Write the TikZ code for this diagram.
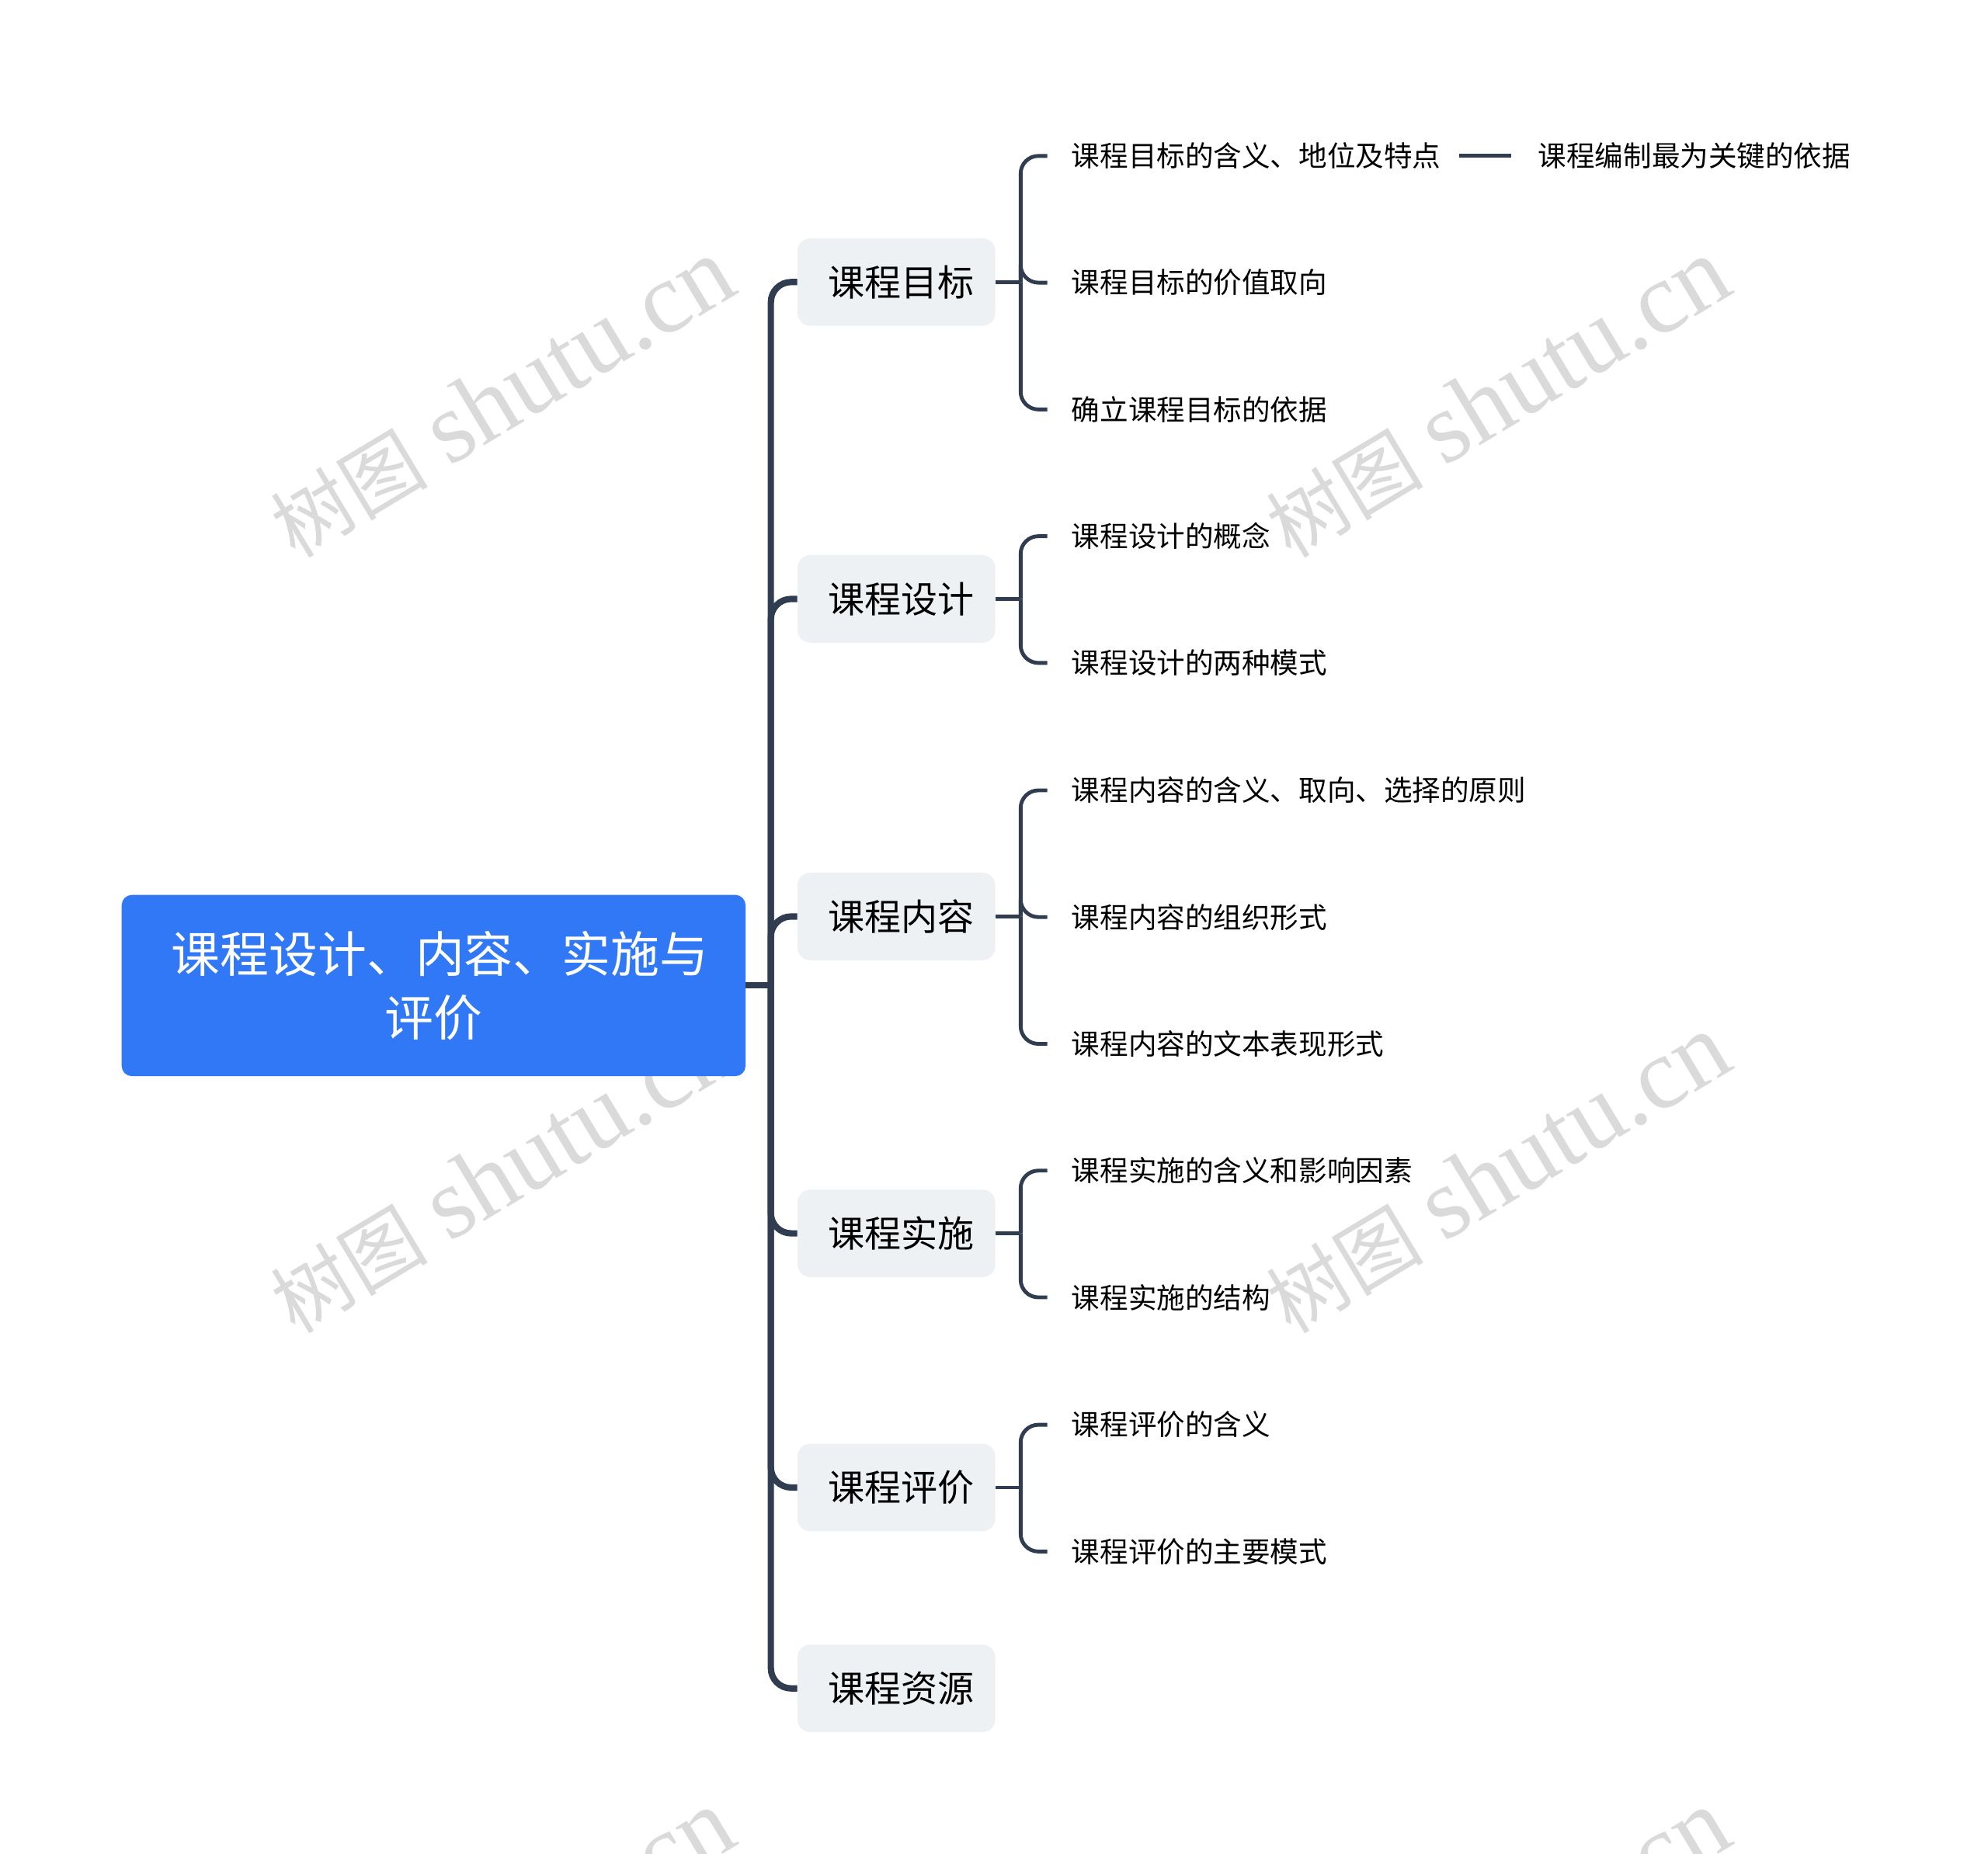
\documentclass[tikz,border=0pt]{standalone}
\usepackage{fontspec}
\setmainfont{Noto Sans CJK SC}
\newfontfamily\wmlatin{Liberation Serif}
\definecolor{linec}{HTML}{303D50}
\definecolor{rootblue}{HTML}{3178F6}
\definecolor{boxgray}{HTML}{EEF1F4}
\definecolor{wmgray}{HTML}{DADADA}
\newcommand{\wmtext}{{\fontsize{62}{70}\selectfont 树图}\hspace*{17pt}{\wmlatin shutu.cn}}
\tikzset{
  rootbox/.style={draw=none, fill=rootblue, rounded corners=8pt, minimum width=492pt, minimum height=143pt, align=center, text=white, font=\fontsize{38.5}{50}\selectfont, inner sep=0pt},
  lonebox/.style={draw=none, fill=boxgray, rounded corners=10pt, minimum width=156pt, minimum height=69pt, inner sep=0pt, text=black, font=\fontsize{28.8}{34}\selectfont},
  leaf/.style={anchor=west, inner xsep=19pt, inner ysep=4pt, text=black, font=\fontsize{22.4}{27}\selectfont},
  trunk/.style={draw=linec, line width=5pt, rounded corners=16pt},
  twig/.style={draw=linec, line width=3pt, rounded corners=14pt},
  wm/.style={text=wmgray, rotate=31, font=\fontsize{80}{88}\selectfont, inner sep=0pt}
}
\begin{document}
\begin{tikzpicture}[x=1pt,y=-1pt]
\useasboundingbox (0,0) rectangle (1568,1462.6);
% watermarks
\begin{scope}
\clip (0,0) rectangle (1568,1462.6);
\node[wm] (wm1) at (396,314) {\wmtext};
\node[wm] (wm2) at (1181,314) {\wmtext};
\node[wm] (wm3) at (396,926) {\wmtext};
\node[wm] (wm4) at (1181,926) {\wmtext};
\node[wm] (wm5) at (396,1538) {\wmtext};
\node[wm] (wm6) at (1181,1538) {\wmtext};
\end{scope}

% root
\node[rootbox] (root) at (342,777.5) {\hspace*{10pt}课程设计、内容、实施与\\评价};
\coordinate (hub) at (608,777.5);

% level 1
\node[lonebox] (a) at (707,222.5) {\hspace*{8pt}课程目标};
\node[lonebox] (b) at (707,472.5) {\hspace*{8pt}课程设计};
\node[lonebox] (c) at (707,723) {\hspace*{8pt}课程内容};
\node[lonebox] (d) at (707,973) {\hspace*{8pt}课程实施};
\node[lonebox] (e) at (707,1173.5) {\hspace*{8pt}课程评价};
\node[lonebox] (f) at (707,1332) {\hspace*{8pt}课程资源};

% leaves
\node[leaf] (a1) at (826,123) {课程目标的含义、地位及特点};
\node[leaf] (a2) at (826,223) {课程目标的价值取向};
\node[leaf] (a3) at (826,323) {确立课程目标的依据};
\node[leaf, inner xsep=21pt] (a1x) at (1192,123) {课程编制最为关键的依据};
\node[leaf] (b1) at (826,423) {课程设计的概念};
\node[leaf] (b2) at (826,523) {课程设计的两种模式};
\node[leaf] (c1) at (826,623.5) {课程内容的含义、取向、选择的原则};
\node[leaf] (c2) at (826,723.5) {课程内容的组织形式};
\node[leaf] (c3) at (826,823.5) {课程内容的文本表现形式};
\node[leaf] (d1) at (826,923.5) {课程实施的含义和影响因素};
\node[leaf] (d2) at (826,1023.5) {课程实施的结构};
\node[leaf] (e1) at (826,1124) {课程评价的含义};
\node[leaf] (e2) at (826,1224) {课程评价的主要模式};

% trunk connectors
\draw[trunk] (root.east) -- (hub);
\foreach \n in {a,b,c,d,e,f}{
  \draw[trunk] (hub) |- (\n.west);
}

% second level connectors
\coordinate (ja) at (805,222.5);
\coordinate (jb) at (805,472.5);
\coordinate (jc) at (805,723);
\coordinate (jd) at (805,973);
\coordinate (je) at (805,1173.5);
\draw[twig] (a.east) -- (ja);
\draw[twig] (b.east) -- (jb);
\draw[twig] (c.east) -- (jc);
\draw[twig] (d.east) -- (jd);
\draw[twig] (e.east) -- (je);
\foreach \j/\l in {ja/a1,ja/a2,ja/a3,jb/b1,jb/b2,jc/c1,jc/c2,jc/c3,jd/d1,jd/d2,je/e1,je/e2}{
  \draw[twig] (\j) |- (\l.west);
}
\draw[twig] ([xshift=-5pt]a1.east) -- (a1x.west);
\end{tikzpicture}
\end{document}
